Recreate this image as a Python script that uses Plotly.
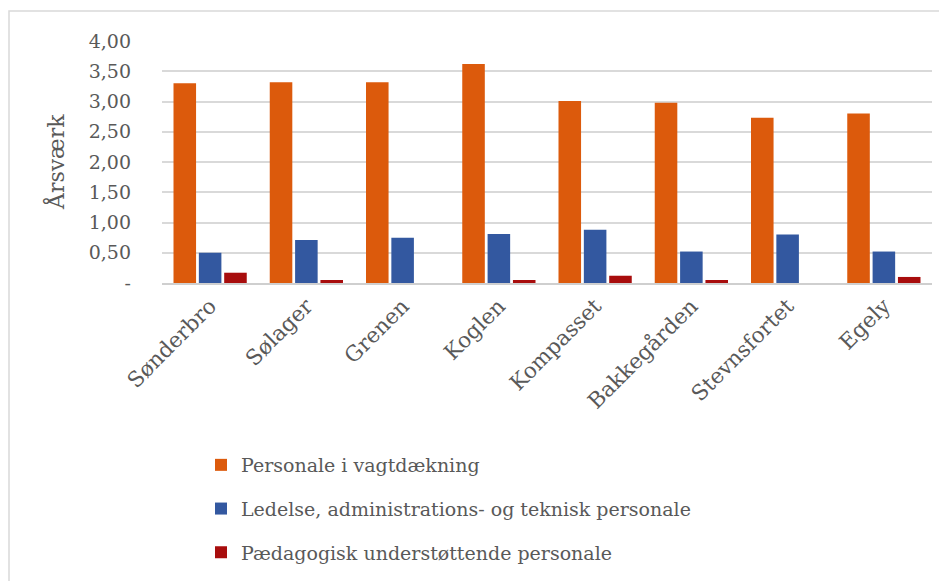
import plotly.graph_objects as go

# Data
institutions = ["Sønderbro", "Sølager", "Grenen", "Koglen",
                "Kompasset", "Bakkegården", "Stevnsfortet", "Egely"]
vagt = [3.30, 3.32, 3.32, 3.62, 3.01, 2.98, 2.73, 2.80]
ledelse = [0.50, 0.71, 0.75, 0.81, 0.88, 0.52, 0.80, 0.52]
paed = [0.17, 0.05, 0.00, 0.05, 0.12, 0.05, 0.00, 0.10]

series_names = ["Personale i vagtdækning",
                "Ledelse, administrations- og teknisk personale",
                "Pædagogisk understøttende personale"]

tick_vals = [0, 0.5, 1.0, 1.5, 2.0, 2.5, 3.0, 3.5, 4.0]
tick_text = ["-", "0,50", "1,00", "1,50", "2,00", "2,50", "3,00", "3,50", "4,00"]

FONT = "DejaVu Serif"
TXT = "#595959"
GRID = "#D9D9D9"

# page body adds an 8px margin around the figure
OFF = 8
W, H = 947, 581
# plot area in screen pixels: x 162..932, y 41..283
L, T = 162 - OFF, 41 - OFF
R, B = W - (932 - OFF), H - (283 - OFF)
pw, ph = W - L - R, H - T - B


def px_x(x):
    return (x - OFF - L) / pw


def px_y(y):
    return 1 - (y - OFF - T) / ph


fig = go.Figure()
fig.add_trace(go.Bar(x=institutions, y=vagt, name=series_names[0],
                     legendgroup="a",
                     marker=dict(color="#DC5A0C", line=dict(width=0))))
fig.add_trace(go.Bar(x=institutions, y=ledelse, name=series_names[1],
                     legendgroup="b",
                     marker=dict(color="#3358A0", line=dict(width=0))))
fig.add_trace(go.Bar(x=institutions, y=paed, name=series_names[2],
                     legendgroup="c",
                     marker=dict(color="#A80D0D", line=dict(width=0))))

# Outer chart border (left and top visible in the reference)
fig.add_shape(type="rect", xref="paper", yref="paper",
              x0=px_x(9), x1=px_x(W + 20), y0=px_y(H + 20), y1=px_y(11),
              line=dict(color=GRID, width=1.5), fillcolor="rgba(0,0,0,0)",
              layer="below")

fig.add_annotation(text="Årsværk", xref="paper", yref="paper",
                   x=px_x(55), y=px_y(162), xanchor="center", yanchor="middle",
                   textangle=-90, showarrow=False,
                   font=dict(family=FONT, size=22, color=TXT))

fig.update_layout(
    width=W, height=H,
    margin=dict(l=L, r=R, t=T, b=B, autoexpand=False),
    paper_bgcolor="white", plot_bgcolor="white",
    barmode="group", bargap=0.21, bargroupgap=0.11,
    font=dict(family=FONT, color=TXT),
    showlegend=True,
    legend=dict(x=px_x(201), y=px_y(446), xanchor="left", yanchor="top",
                orientation="v", tracegroupgap=16,
                font=dict(family=FONT, size=19, color=TXT),
                bgcolor="rgba(0,0,0,0)"),
    xaxis=dict(tickangle=-45, tickfont=dict(family=FONT, size=21.5, color=TXT),
               showline=True, linecolor="#CFCFCF", linewidth=2,
               ticks="", showgrid=False, automargin=False),
    yaxis=dict(range=[0, 4.0], tickvals=tick_vals, ticktext=tick_text,
               tickfont=dict(family=FONT, size=19, color=TXT),
               showgrid=True, gridcolor=GRID, gridwidth=1.5,
               zeroline=False, ticks="", ticklabelstandoff=30,
               automargin=False),
)

fig.write_html("out.html")
